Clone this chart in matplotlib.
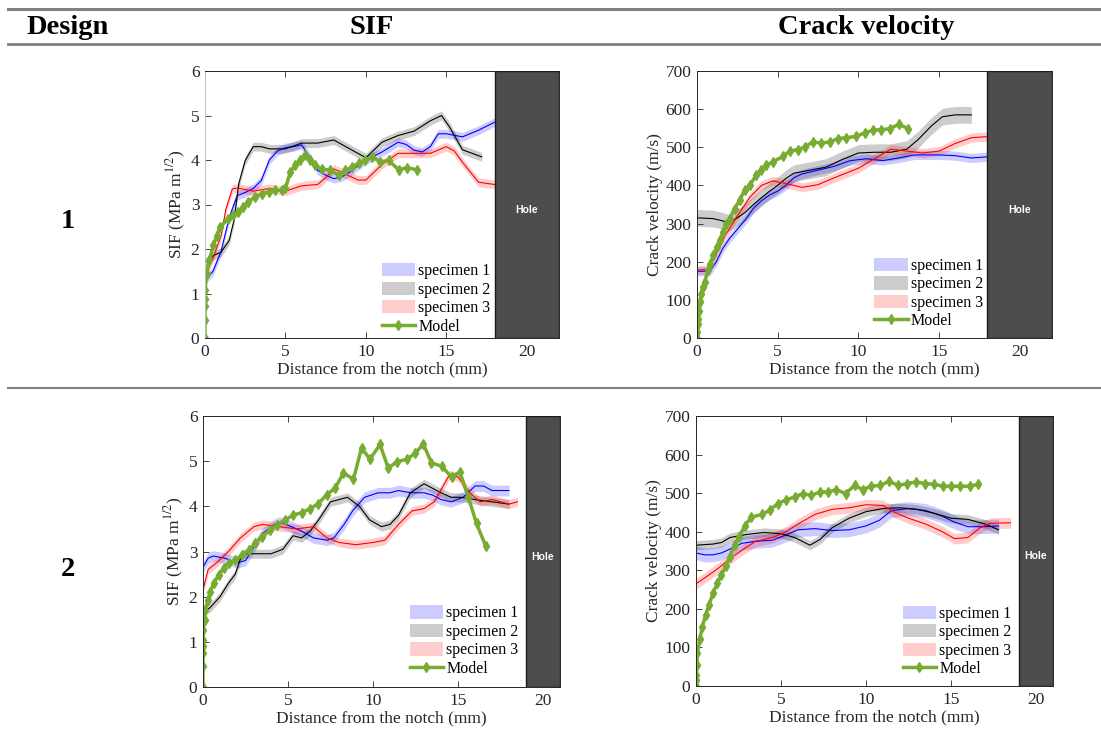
import matplotlib
matplotlib.use("Agg")
import matplotlib.pyplot as plt
from matplotlib.lines import Line2D

plt.rcParams['font.family'] = ['Liberation Serif', 'DejaVu Serif']
plt.rcParams['mathtext.fontset'] = 'stix'

# ---- Design 1, SIF ----
sif1_s1_x = [0, 0.5, 1, 1.5, 2, 2.5, 3, 3.5, 4, 4.5, 5, 5.5, 6, 6.5, 7, 7.5, 8, 8.5, 9, 10, 11, 12, 12.5, 13, 13.5, 14, 14.5, 15, 16, 17, 18]
sif1_s1_y = [1.3, 1.5, 1.95, 2.7, 3.2, 3.27, 3.36, 3.54, 4.0, 4.2, 4.28, 4.3, 4.34, 4.07, 3.77, 3.66, 3.58, 3.62, 3.73, 4.0, 4.18, 4.4, 4.35, 4.22, 4.18, 4.3, 4.59, 4.59, 4.52, 4.67, 4.85]
sif1_s2_x = [0, 0.5, 1, 1.5, 1.8, 2.1, 2.5, 3, 3.5, 4, 5, 6, 7, 8, 9, 10, 11, 12, 13, 14, 14.7, 15.2, 16, 17.2]
sif1_s2_y = [1.7, 1.85, 1.93, 2.19, 2.64, 3.47, 3.99, 4.3, 4.3, 4.25, 4.25, 4.38, 4.38, 4.45, 4.25, 4.05, 4.4, 4.55, 4.65, 4.88, 5.0, 4.74, 4.23, 4.07]
sif1_s3_x = [0, 0.5, 1, 1.3, 1.7, 2, 3, 4, 5, 6, 7, 7.5, 8, 8.5, 9.5, 10, 11, 12, 13, 14, 15, 15.5, 16, 17, 18]
sif1_s3_y = [1.4, 1.8, 2.3, 2.9, 3.35, 3.37, 3.3, 3.36, 3.3, 3.42, 3.45, 3.6, 3.8, 3.72, 3.55, 3.55, 3.9, 4.15, 4.15, 4.15, 4.3, 4.2, 3.95, 3.5, 3.45]
sif1_model_x = [0, 0, 0, 0, 0, 0.1, 0.27, 0.52, 0.73, 0.93, 1.45, 1.77, 2.08, 2.39, 2.7, 3.12, 3.53, 3.95, 4.36, 4.78, 5.0, 5.3, 5.6, 5.9, 6.23, 6.54, 6.85, 7.27, 7.79, 8.3, 8.72, 9.14, 9.55, 9.97, 10.38, 10.9, 11.42, 12.04, 12.56, 13.15]
sif1_model_y = [0, 0.4, 0.71, 0.88, 1.07, 1.44, 1.75, 2.08, 2.3, 2.49, 2.68, 2.76, 2.83, 2.94, 3.06, 3.17, 3.24, 3.28, 3.32, 3.32, 3.36, 3.73, 3.88, 3.99, 4.12, 3.99, 3.88, 3.8, 3.77, 3.66, 3.77, 3.84, 3.93, 3.99, 4.07, 3.96, 3.99, 3.78, 3.83, 3.78]

# ---- Design 1, crack velocity ----
vel1_s1_x = [0, 0.8, 1.2, 1.6, 2, 2.5, 3, 3.5, 4, 4.5, 5, 5.5, 6, 6.5, 7, 7.5, 8.5, 9.5, 10.5, 11.5, 12.5, 13.5, 15, 16, 17, 18]
vel1_s1_y = [175, 175, 200, 235, 260, 285, 310, 340, 360, 375, 385, 400, 420, 430, 435, 440, 450, 465, 470, 465, 472, 480, 480, 478, 472, 475]
vel1_s2_x = [0, 1, 1.5, 2, 2.5, 3, 3.5, 4, 4.5, 5, 5.5, 6, 7, 8, 9, 10, 11, 12, 13, 13.7, 14.5, 15.2, 16, 17]
vel1_s2_y = [315, 313, 308, 302, 315, 330, 350, 368, 385, 400, 418, 432, 440, 448, 468, 485, 487, 487, 495, 520, 555, 580, 585, 585]
vel1_s3_x = [0, 0.7, 1.2, 1.7, 2.5, 3.3, 4, 4.7, 5.5, 6.5, 7.5, 8.5, 10, 11, 12, 13, 14, 15, 16, 17, 18]
vel1_s3_y = [178, 180, 220, 265, 320, 370, 400, 412, 405, 395, 402, 420, 445, 470, 495, 490, 485, 490, 510, 525, 528]
vel1_model_x = [0, 0.02, 0.06, 0.06, 0.1, 0.17, 0.27, 0.37, 0.48, 0.68, 0.83, 1.0, 1.24, 1.4, 1.61, 1.82, 2.02, 2.33, 2.64, 2.95, 3.26, 3.68, 3.99, 4.3, 4.71, 5.33, 5.74, 6.26, 6.67, 7.19, 7.71, 8.22, 8.74, 9.26, 9.88, 10.39, 10.91, 11.43, 11.94, 12.52, 13.08]
vel1_model_y = [0, 16, 38, 51, 71, 94, 116, 134, 147, 177, 195, 217, 239, 256, 278, 300, 313, 339, 361, 387, 400, 427, 440, 453, 462, 476, 490, 494, 501, 514, 511, 514, 523, 525, 529, 538, 545, 546, 549, 560, 549]

# ---- Design 2, SIF ----
sif2_s1_x = [0, 0.3, 0.6, 1.3, 2, 2.5, 3, 3.5, 4.2, 4.5, 5.2, 5.8, 6.5, 7.3, 7.7, 8.3, 8.8, 9.5, 10.3, 11, 11.5, 12.2, 13, 13.5, 14, 14.6, 15.3, 16, 16.5, 17, 18]
sif2_s1_y = [2.65, 2.85, 2.9, 2.85, 2.75, 2.8, 3.1, 3.4, 3.6, 3.65, 3.55, 3.45, 3.3, 3.25, 3.3, 3.6, 3.9, 4.2, 4.3, 4.3, 4.35, 4.3, 4.3, 4.25, 4.15, 4.1, 4.2, 4.45, 4.45, 4.35, 4.35]
sif2_s2_x = [0.1, 0.4, 1, 1.5, 1.9, 2.3, 3, 4, 4.7, 5.3, 5.8, 6.3, 6.8, 7.5, 8, 8.5, 9.2, 9.8, 10.5, 11, 11.5, 12.2, 13, 13.5, 14, 14.6, 15.2, 16, 17, 18]
sif2_s2_y = [1.7, 1.75, 2.0, 2.3, 2.5, 2.95, 2.95, 2.95, 3.05, 3.35, 3.3, 3.45, 3.7, 4.1, 4.15, 4.2, 4.0, 3.7, 3.55, 3.6, 3.8, 4.3, 4.5, 4.4, 4.3, 4.2, 4.2, 4.15, 4.1, 4.05]
sif2_s3_x = [0, 0.3, 0.8, 1.5, 2.2, 3, 3.5, 4.5, 5.5, 6.5, 7.3, 8, 9, 10, 10.7, 11.5, 12.3, 13, 13.6, 14.5, 15, 15.7, 16.3, 17, 18, 18.5]
sif2_s3_y = [2.15, 2.6, 2.75, 3.0, 3.3, 3.55, 3.6, 3.55, 3.5, 3.55, 3.3, 3.2, 3.15, 3.2, 3.25, 3.6, 3.9, 3.95, 4.1, 4.7, 4.65, 4.3, 4.1, 4.15, 4.05, 4.1]
sif2_model_x = [0, 0, 0, 0, 0, 0.02, 0.1, 0.14, 0.29, 0.43, 0.63, 0.92, 1.21, 1.51, 1.9, 2.29, 2.68, 3.07, 3.46, 3.95, 4.34, 4.83, 5.32, 5.81, 6.3, 6.79, 7.28, 7.77, 8.26, 8.85, 9.33, 9.82, 10.41, 10.9, 11.39, 11.98, 12.47, 12.96, 13.44, 14.03, 14.62, 15.11, 15.6, 16.09, 16.63]
sif2_model_y = [0, 0.46, 0.75, 0.9, 1.05, 1.27, 1.49, 1.71, 1.93, 2.11, 2.3, 2.48, 2.63, 2.74, 2.81, 2.92, 3.03, 3.18, 3.33, 3.48, 3.59, 3.7, 3.81, 3.86, 3.95, 4.06, 4.26, 4.4, 4.74, 4.6, 5.3, 5.04, 5.37, 4.84, 4.99, 5.04, 5.17, 5.38, 4.96, 4.89, 4.65, 4.76, 4.21, 3.62, 3.12]

# ---- Design 2, crack velocity ----
vel2_s1_x = [0, 0.5, 1, 1.5, 2, 2.7, 3.5, 4.5, 5.2, 6, 7, 8, 9, 10, 10.8, 11.5, 12.5, 13.5, 14.5, 15.2, 16, 17, 17.8]
vel2_s1_y = [345, 340, 340, 345, 355, 370, 375, 378, 390, 405, 408, 403, 405, 415, 430, 455, 460, 455, 440, 425, 413, 413, 415]
vel2_s2_x = [0, 1, 1.5, 2, 3, 4, 5, 5.8, 6.7, 7.3, 8, 9, 10, 11, 12, 13, 14, 15, 16, 17, 17.8]
vel2_s2_y = [365, 368, 372, 385, 393, 398, 395, 385, 365, 380, 410, 435, 452, 460, 462, 458, 448, 435, 432, 420, 405]
vel2_s3_x = [0, 0.5, 1.3, 2, 2.8, 3.5, 4.5, 5.3, 6, 7, 8, 9, 10, 11, 11.7, 12.5, 13.5, 14.5, 15.2, 16, 16.7, 17.3, 18.5]
vel2_s3_y = [265, 280, 305, 330, 355, 375, 385, 400, 420, 445, 458, 462, 470, 468, 450, 435, 420, 400, 382, 385, 410, 422, 423]
vel2_model_x = [0, 0, 0.02, 0.04, 0.08, 0.22, 0.37, 0.57, 0.76, 1.0, 1.25, 1.49, 1.75, 1.98, 2.27, 2.53, 2.86, 3.25, 3.9, 4.33, 4.82, 5.31, 5.8, 6.29, 6.78, 7.27, 7.76, 8.25, 8.8, 9.33, 9.82, 10.3, 10.84, 11.35, 11.88, 12.41, 12.96, 13.45, 13.98, 14.53, 15.02, 15.55, 16.1, 16.59]
vel2_model_y = [0, 16, 28, 54, 85, 121, 154, 184, 210, 240, 266, 287, 311, 335, 365, 387, 414, 438, 445, 456, 473, 483, 490, 499, 494, 503, 503, 509, 499, 520, 509, 518, 520, 531, 520, 525, 529, 525, 523, 518, 518, 518, 518, 523]

labels = ['specimen 1', 'specimen 2', 'specimen 3', 'Model']
line_colors = ['#0000ff', '#000000', '#ff0000']
green = '#77ac30'
dark = '#262626'


def draw_panel(ax, specimens, bands, model, ymax, ystep, xmax, hole_x, ylabel, anchor):
    handles = []
    for (x, y), d, c in zip(specimens, bands, line_colors):
        lo = [v - d for v in y]
        hi = [v + d for v in y]
        h = ax.fill_between(x, lo, hi, color=c, alpha=0.2, linewidth=0)
        ax.plot(x, y, color=c, lw=0.8)
        handles.append(h)
    mx, my = model
    hm, = ax.plot(mx, my, color=green, lw=2.5, marker='d', ms=5, mec=green)
    handles.append(hm)

    ax.axvspan(hole_x, xmax, color='#4d4d4d', ec='#1a1a1a', lw=1.0, zorder=5)
    ax.text((hole_x + xmax) / 2, ymax * 0.48, 'Hole', color='white', fontsize=7.5,
            fontweight='bold', family='Liberation Sans', ha='center', va='center', zorder=6)

    ax.set_xlim(0, xmax)
    ax.set_ylim(0, ymax)
    ax.set_xticks([0, 5, 10, 15, 20])
    ax.set_yticks(range(0, ymax + ystep, ystep))
    ax.tick_params(direction='in', top=True, right=True, length=4, width=0.6,
                   labelsize=12.5, colors=dark, pad=4)
    for s in ax.spines.values():
        s.set_color(dark)
        s.set_linewidth(0.7)
    ax.set_xlabel('Distance from the notch (mm)', fontsize=12.5, color=dark, labelpad=1)
    ax.set_ylabel(ylabel, fontsize=12.5, color=dark, labelpad=2)
    ax.legend(handles, labels, loc='lower left', bbox_to_anchor=anchor, frameon=False,
              fontsize=11.5, handlelength=2.1, handleheight=0.9, labelspacing=0.15,
              handletextpad=0.2, borderaxespad=0, borderpad=0.2)


fig = plt.figure(figsize=(11.01, 7.34), dpi=100)

ax1 = fig.add_axes([205 / 1101, 1 - 338 / 734, 354 / 1101, 267 / 734])
ax2 = fig.add_axes([697 / 1101, 1 - 338 / 734, 355 / 1101, 267 / 734])
ax3 = fig.add_axes([203 / 1101, 1 - 687 / 734, 357 / 1101, 271 / 734])
ax4 = fig.add_axes([696 / 1101, 1 - 686 / 734, 357 / 1101, 270 / 734])

sif_label = 'SIF (MPa m$^{1/2}$)'
vel_label = 'Crack velocity (m/s)'

draw_panel(ax1, [(sif1_s1_x, sif1_s1_y), (sif1_s2_x, sif1_s2_y), (sif1_s3_x, sif1_s3_y)],
           [0.1, 0.1, 0.1], (sif1_model_x, sif1_model_y), 6, 1, 22, 18, sif_label, (0.49, 0.0))
draw_panel(ax2, [(vel1_s1_x, vel1_s1_y), (vel1_s2_x, vel1_s2_y), (vel1_s3_x, vel1_s3_y)],
           [12, 22, 12], (vel1_model_x, vel1_model_y), 700, 100, 22, 18, vel_label, (0.49, 0.02))
draw_panel(ax3, [(sif2_s1_x, sif2_s1_y), (sif2_s2_x, sif2_s2_y), (sif2_s3_x, sif2_s3_y)],
           [0.12, 0.1, 0.1], (sif2_model_x, sif2_model_y), 6, 1, 21, 19, sif_label, (0.57, 0.025))
draw_panel(ax4, [(vel2_s1_x, vel2_s1_y), (vel2_s2_x, vel2_s2_y), (vel2_s3_x, vel2_s3_y)],
           [18, 12, 14], (vel2_model_x, vel2_model_y), 700, 100, 21, 19, vel_label, (0.57, 0.02))

ax1.spines['left'].set_color('#bdbdbd')

# table frame
for yy, lw in [(9, 2.2), (44, 2.0), (388, 1.5)]:
    fig.add_artist(Line2D([8 / 1101, 1], [1 - yy / 734] * 2, color='#808080', lw=lw))

hdr = dict(fontsize=20.5, fontweight='bold', ha='center', va='center', color='black')
fig.text(68 / 1101, 1 - 27 / 734, 'Design', **hdr)
fig.text(372 / 1101, 1 - 27 / 734, 'SIF', **hdr)
fig.text(866 / 1101, 1 - 27 / 734, 'Crack velocity', **hdr)
fig.text(68 / 1101, 1 - 222 / 734, '1', **hdr)
fig.text(68 / 1101, 1 - 570 / 734, '2', **hdr)

fig.savefig('out.png', dpi=100)
